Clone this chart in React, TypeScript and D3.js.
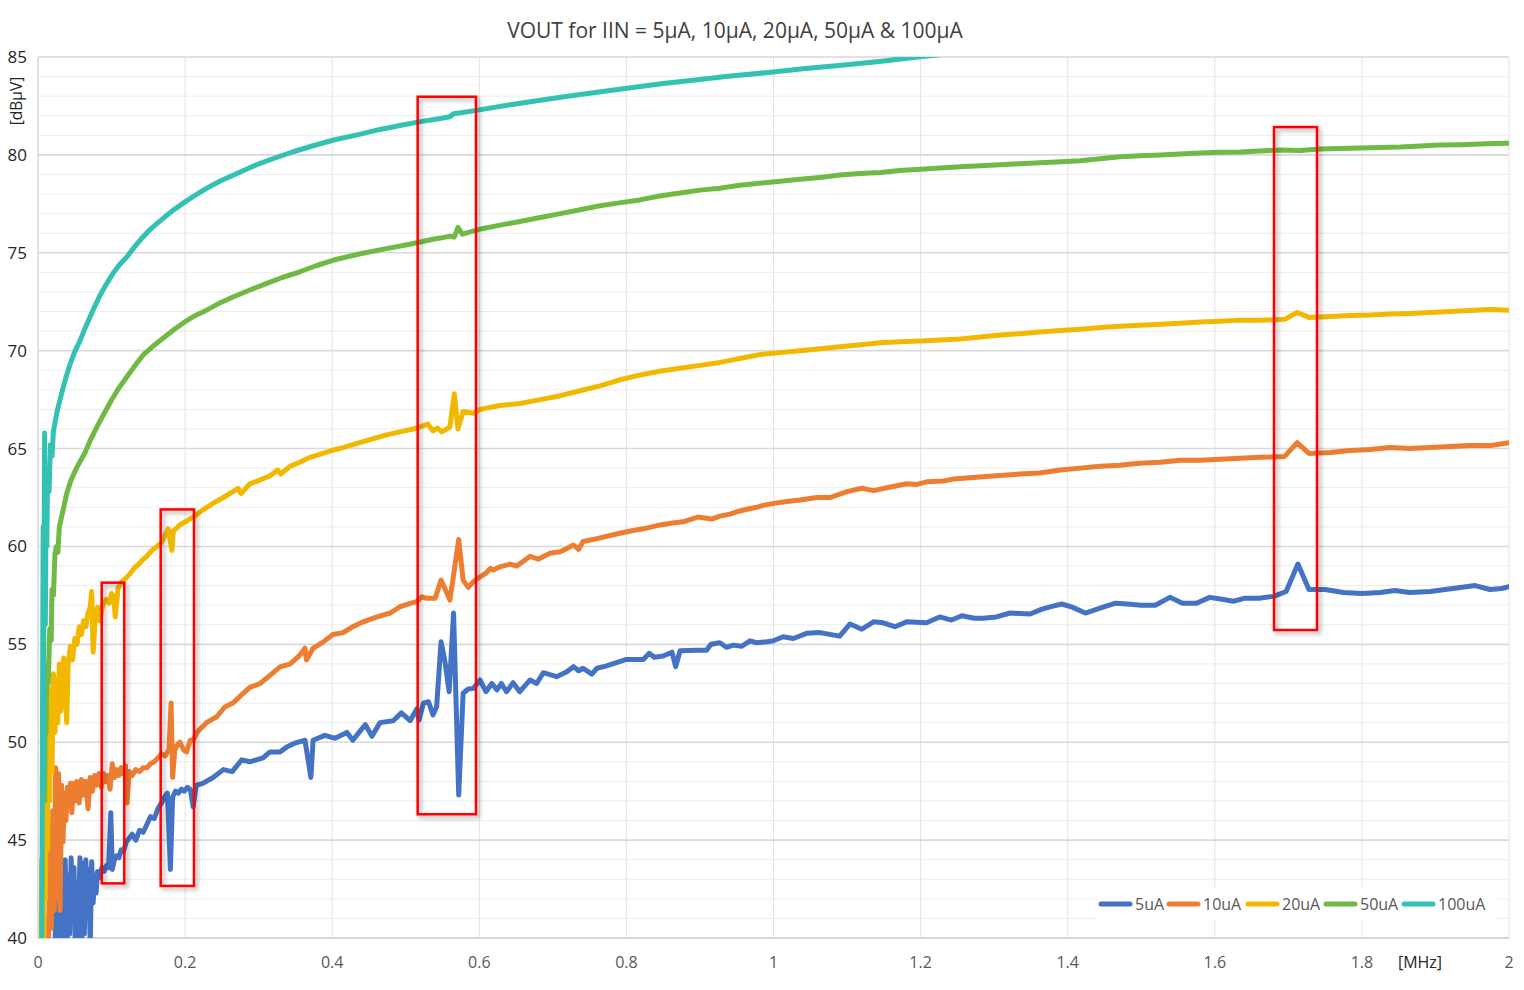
import React from 'react';
import * as d3 from 'd3';

// [MHz, dBµV] measured points per input current
const s5uA: [number, number][] = [
  [0.022, 38], [0.025, 42.3], [0.027, 38.5], [0.029, 43.0], [0.031, 39.0], [0.033, 43.3], [0.035, 40.4], [0.037, 44.0],
  [0.039, 38.5], [0.041, 43.2], [0.043, 40.2], [0.045, 44.1], [0.047, 41.0], [0.049, 43.6], [0.051, 38.5], [0.053, 42.8],
  [0.055, 40.6], [0.057, 44.1], [0.059, 39.0], [0.061, 43.8], [0.063, 40.2], [0.065, 44.0], [0.067, 41.5], [0.069, 43.5],
  [0.071, 39.5], [0.073, 43.9], [0.075, 41.8], [0.077, 43.2], [0.079, 42.3], [0.081, 43.4], [0.084, 43.1], [0.087, 43.6],
  [0.090, 43.4], [0.093, 43.7], [0.096, 43.6], [0.099, 46.4], [0.101, 43.5], [0.104, 44.0], [0.107, 44.2], [0.110, 44.1],
  [0.113, 44.5], [0.116, 44.4], [0.120, 44.9], [0.124, 45.1], [0.128, 45.3], [0.133, 45.0], [0.138, 45.5], [0.143, 45.4],
  [0.148, 45.8], [0.153, 46.2], [0.158, 46.1], [0.163, 46.6], [0.168, 46.9], [0.172, 47.2], [0.176, 47.4], [0.180, 43.5],
  [0.183, 47.2], [0.187, 47.5], [0.191, 47.4], [0.195, 47.6], [0.199, 47.5], [0.203, 47.7], [0.207, 47.6], [0.211, 46.7],
  [0.215, 47.8], [0.224, 47.9], [0.238, 48.2], [0.252, 48.6], [0.264, 48.5], [0.277, 49.1], [0.288, 49.0], [0.306, 49.2],
  [0.315, 49.5], [0.329, 49.5], [0.338, 49.75], [0.349, 49.95], [0.363, 50.1], [0.371, 48.2], [0.374, 50.1], [0.390, 50.35],
  [0.404, 50.2], [0.420, 50.5], [0.428, 50.1], [0.445, 50.9], [0.454, 50.3], [0.465, 51.0], [0.483, 51.1], [0.494, 51.5],
  [0.506, 51.1], [0.515, 51.7], [0.518, 51.13], [0.524, 51.99], [0.531, 52.07], [0.537, 51.39], [0.542, 51.81], [0.548, 55.13],
  [0.553, 54.2], [0.559, 52.58], [0.565, 56.6], [0.572, 47.3], [0.578, 52.5], [0.585, 52.72], [0.592, 52.75], [0.601, 53.18],
  [0.609, 52.58], [0.617, 53.0], [0.624, 52.67], [0.630, 53.0], [0.637, 52.58], [0.646, 53.04], [0.655, 52.58], [0.669, 53.18],
  [0.678, 53.0], [0.687, 53.55], [0.705, 53.35], [0.719, 53.6], [0.728, 53.86], [0.735, 53.65], [0.741, 53.78], [0.753, 53.48],
  [0.760, 53.78], [0.773, 53.9], [0.800, 54.23], [0.823, 54.23], [0.831, 54.54], [0.838, 54.34], [0.850, 54.4], [0.862, 54.6],
  [0.867, 53.86], [0.873, 54.67], [0.896, 54.7], [0.909, 54.7], [0.915, 55.0], [0.927, 55.08], [0.936, 54.85], [0.945, 54.96],
  [0.957, 54.9], [0.968, 55.18], [0.977, 55.08], [0.991, 55.13], [1.000, 55.18], [1.013, 55.39], [1.027, 55.3], [1.045, 55.56],
  [1.063, 55.6], [1.090, 55.42], [1.104, 56.04], [1.120, 55.77], [1.136, 56.15], [1.149, 56.1], [1.165, 55.9], [1.181, 56.15],
  [1.208, 56.1], [1.226, 56.4], [1.242, 56.24], [1.256, 56.46], [1.273, 56.33], [1.285, 56.33], [1.303, 56.4], [1.322, 56.6],
  [1.349, 56.55], [1.365, 56.8], [1.380, 56.95], [1.392, 57.06], [1.406, 56.9], [1.424, 56.6], [1.444, 56.85], [1.465, 57.1],
  [1.485, 57.05], [1.500, 57.0], [1.519, 57.0], [1.539, 57.4], [1.556, 57.1], [1.575, 57.1], [1.593, 57.4], [1.610, 57.3],
  [1.625, 57.2], [1.640, 57.35], [1.660, 57.35], [1.680, 57.45], [1.697, 57.7], [1.713, 59.1], [1.728, 57.8], [1.750, 57.8],
  [1.775, 57.65], [1.800, 57.6], [1.825, 57.65], [1.845, 57.75], [1.865, 57.65], [1.893, 57.7], [1.913, 57.8], [1.934, 57.9],
  [1.954, 58.0], [1.974, 57.8], [1.990, 57.85], [2.000, 57.95],
];

const s10uA: [number, number][] = [
  [0.010, 38], [0.012, 41.0], [0.014, 38.5], [0.016, 44.5], [0.018, 40.5], [0.020, 46.5], [0.022, 41.4], [0.024, 48.7],
  [0.026, 42.0], [0.028, 48.4], [0.030, 41.4], [0.032, 47.8], [0.034, 44.9], [0.036, 47.4], [0.038, 46.0], [0.040, 47.7],
  [0.042, 46.7], [0.044, 47.9], [0.046, 46.4], [0.048, 47.9], [0.050, 47.0], [0.053, 48.0], [0.056, 46.9], [0.059, 48.1],
  [0.062, 47.3], [0.065, 48.0], [0.068, 46.6], [0.071, 48.2], [0.074, 47.5], [0.077, 48.3], [0.080, 47.8], [0.083, 48.4],
  [0.086, 47.7], [0.089, 48.4], [0.092, 48.0], [0.095, 48.3], [0.098, 47.6], [0.101, 48.9], [0.104, 48.2], [0.107, 48.6],
  [0.110, 48.3], [0.113, 48.7], [0.116, 48.4], [0.119, 48.8], [0.121, 46.9], [0.124, 48.5], [0.128, 48.3], [0.133, 48.6],
  [0.138, 48.5], [0.143, 48.7], [0.148, 48.7], [0.153, 48.9], [0.158, 49.0], [0.163, 49.2], [0.168, 49.4], [0.173, 49.3],
  [0.178, 49.6], [0.181, 52.0], [0.183, 48.2], [0.186, 49.6], [0.190, 49.9], [0.193, 50.0], [0.198, 49.6], [0.202, 49.5],
  [0.207, 50.1], [0.211, 50.1], [0.216, 50.5], [0.229, 51.0], [0.243, 51.3], [0.254, 51.8], [0.265, 52.0], [0.279, 52.5],
  [0.288, 52.8], [0.302, 53.0], [0.315, 53.4], [0.329, 53.85], [0.343, 54.0], [0.356, 54.45], [0.363, 54.8], [0.365, 54.2],
  [0.374, 54.8], [0.387, 55.1], [0.401, 55.5], [0.415, 55.6], [0.428, 55.9], [0.442, 56.15], [0.461, 56.4], [0.479, 56.6],
  [0.492, 56.92], [0.499, 57.0], [0.506, 57.09], [0.515, 57.18], [0.522, 57.43], [0.528, 57.35], [0.540, 57.35], [0.548, 58.28],
  [0.553, 57.86], [0.560, 57.26], [0.566, 58.79], [0.572, 60.36], [0.578, 58.28], [0.585, 57.91], [0.592, 58.2], [0.601, 58.45],
  [0.609, 58.63], [0.615, 58.88], [0.619, 58.79], [0.628, 58.96], [0.642, 59.1], [0.651, 59.0], [0.669, 59.5], [0.680, 59.35],
  [0.696, 59.65], [0.710, 59.73], [0.719, 59.9], [0.728, 60.07], [0.735, 59.85], [0.741, 60.25], [0.760, 60.4], [0.782, 60.6],
  [0.807, 60.8], [0.823, 60.9], [0.846, 61.1], [0.863, 61.2], [0.877, 61.26], [0.897, 61.5], [0.916, 61.4], [0.927, 61.55],
  [0.941, 61.65], [0.950, 61.77], [0.964, 61.9], [0.977, 62.0], [0.986, 62.1], [1.000, 62.2], [1.018, 62.3], [1.036, 62.37],
  [1.059, 62.5], [1.077, 62.5], [1.100, 62.8], [1.120, 62.97], [1.136, 62.85], [1.154, 63.0], [1.181, 63.2], [1.195, 63.17],
  [1.208, 63.3], [1.231, 63.34], [1.244, 63.44], [1.276, 63.53], [1.298, 63.6], [1.335, 63.7], [1.362, 63.75], [1.390, 63.9],
  [1.417, 64.0], [1.444, 64.1], [1.471, 64.15], [1.498, 64.25], [1.526, 64.3], [1.553, 64.4], [1.580, 64.4], [1.607, 64.45],
  [1.634, 64.5], [1.661, 64.55], [1.695, 64.6], [1.712, 65.3], [1.728, 64.75], [1.757, 64.8], [1.784, 64.9], [1.811, 64.95],
  [1.838, 65.05], [1.865, 65.0], [1.893, 65.05], [1.920, 65.1], [1.947, 65.15], [1.974, 65.15], [2.000, 65.3],
];

const s20uA: [number, number][] = [
  [0.004, 38], [0.005, 44.0], [0.006, 38.5], [0.007, 47.0], [0.008, 40.0], [0.009, 50.8], [0.010, 42.0], [0.012, 49.5],
  [0.013, 44.5], [0.014, 52.8], [0.016, 47.0], [0.017, 52.3], [0.019, 48.5], [0.021, 53.5], [0.023, 50.5], [0.025, 53.2],
  [0.027, 51.0], [0.029, 54.0], [0.031, 51.6], [0.033, 53.6], [0.035, 54.3], [0.037, 52.5], [0.039, 51.0], [0.041, 54.0],
  [0.044, 54.9], [0.047, 54.2], [0.050, 55.3], [0.053, 55.0], [0.056, 55.9], [0.059, 55.5], [0.062, 56.2], [0.065, 55.9],
  [0.068, 56.6], [0.071, 56.9], [0.073, 57.7], [0.075, 54.6], [0.078, 56.4], [0.081, 56.9], [0.084, 56.2], [0.088, 57.0],
  [0.093, 57.3], [0.097, 57.1], [0.100, 57.6], [0.103, 57.4], [0.105, 56.4], [0.109, 57.9], [0.114, 58.2], [0.120, 58.4],
  [0.125, 58.6], [0.131, 58.9], [0.137, 59.1], [0.142, 59.3], [0.148, 59.5], [0.155, 59.8], [0.162, 60.0], [0.168, 60.2],
  [0.173, 60.6], [0.177, 60.9], [0.182, 59.8], [0.184, 60.8], [0.193, 61.1], [0.202, 61.3], [0.211, 61.5], [0.224, 61.86],
  [0.238, 62.2], [0.252, 62.5], [0.265, 62.8], [0.272, 62.97], [0.276, 62.7], [0.288, 63.2], [0.302, 63.4], [0.315, 63.6],
  [0.326, 63.9], [0.330, 63.7], [0.343, 64.1], [0.356, 64.3], [0.370, 64.55], [0.383, 64.7], [0.399, 64.9], [0.415, 65.05],
  [0.428, 65.2], [0.442, 65.35], [0.455, 65.5], [0.474, 65.7], [0.492, 65.85], [0.510, 66.0], [0.519, 66.1], [0.530, 66.25],
  [0.537, 65.9], [0.543, 66.05], [0.549, 65.85], [0.560, 66.1], [0.566, 67.8], [0.571, 66.0], [0.578, 66.9], [0.592, 66.8],
  [0.601, 67.0], [0.628, 67.2], [0.655, 67.3], [0.683, 67.5], [0.710, 67.7], [0.737, 67.95], [0.764, 68.2], [0.790, 68.5],
  [0.818, 68.75], [0.845, 68.95], [0.873, 69.1], [0.900, 69.25], [0.927, 69.4], [0.954, 69.6], [0.981, 69.8], [1.009, 69.9],
  [1.036, 70.0], [1.063, 70.1], [1.090, 70.2], [1.118, 70.3], [1.145, 70.4], [1.172, 70.45], [1.200, 70.5], [1.227, 70.55],
  [1.254, 70.6], [1.281, 70.7], [1.308, 70.8], [1.335, 70.87], [1.362, 70.95], [1.390, 71.03], [1.417, 71.1], [1.444, 71.18],
  [1.471, 71.25], [1.498, 71.3], [1.526, 71.35], [1.553, 71.4], [1.580, 71.46], [1.607, 71.5], [1.634, 71.56], [1.661, 71.55],
  [1.695, 71.6], [1.712, 71.95], [1.728, 71.7], [1.757, 71.75], [1.784, 71.8], [1.811, 71.82], [1.838, 71.87], [1.865, 71.9],
  [1.893, 71.95], [1.920, 72.0], [1.947, 72.05], [1.974, 72.1], [2.000, 72.07],
];

const s50uA: [number, number][] = [
  [0.008, 48.5], [0.009, 47.0], [0.010, 52.0], [0.011, 50.5], [0.012, 54.0], [0.014, 53.0], [0.016, 55.8], [0.018, 55.2],
  [0.019, 57.8], [0.021, 57.5], [0.023, 59.6], [0.025, 60.0], [0.027, 59.7], [0.029, 61.0], [0.032, 61.5], [0.035, 62.0],
  [0.039, 62.7], [0.045, 63.4], [0.053, 64.05], [0.064, 64.8], [0.072, 65.5], [0.080, 66.1], [0.090, 66.8], [0.100, 67.48],
  [0.110, 68.1], [0.121, 68.67], [0.132, 69.25], [0.143, 69.78], [0.157, 70.25], [0.170, 70.63], [0.185, 71.08], [0.200, 71.48],
  [0.214, 71.8], [0.229, 72.07], [0.247, 72.43], [0.266, 72.75], [0.288, 73.1], [0.311, 73.44], [0.333, 73.75], [0.356, 74.03],
  [0.379, 74.35], [0.402, 74.63], [0.438, 74.95], [0.479, 75.25], [0.500, 75.4], [0.520, 75.55], [0.535, 75.68], [0.547, 75.75],
  [0.560, 75.85], [0.566, 75.8], [0.571, 76.3], [0.577, 75.95], [0.600, 76.2], [0.627, 76.4], [0.655, 76.6], [0.683, 76.8],
  [0.710, 77.0], [0.737, 77.2], [0.764, 77.4], [0.790, 77.55], [0.818, 77.7], [0.845, 77.9], [0.873, 78.05], [0.900, 78.2],
  [0.927, 78.3], [0.954, 78.45], [0.981, 78.55], [1.009, 78.65], [1.036, 78.75], [1.063, 78.85], [1.090, 78.97], [1.118, 79.05],
  [1.145, 79.1], [1.172, 79.2], [1.200, 79.27], [1.227, 79.33], [1.254, 79.4], [1.281, 79.45], [1.308, 79.5], [1.335, 79.55],
  [1.362, 79.6], [1.390, 79.65], [1.417, 79.7], [1.444, 79.8], [1.471, 79.9], [1.498, 79.95], [1.526, 80.0], [1.553, 80.05],
  [1.580, 80.1], [1.607, 80.13], [1.634, 80.15], [1.660, 80.2], [1.689, 80.25], [1.716, 80.22], [1.743, 80.3], [1.770, 80.33],
  [1.797, 80.35], [1.825, 80.38], [1.852, 80.4], [1.880, 80.45], [1.906, 80.5], [1.934, 80.52], [1.961, 80.55], [1.980, 80.58],
  [2.000, 80.6],
];

const s100uA: [number, number][] = [
  [0.005, 38], [0.006, 50.0], [0.007, 61.0], [0.0075, 47.6], [0.008, 58.0], [0.009, 65.8], [0.010, 56.0], [0.011, 62.5],
  [0.012, 60.0], [0.013, 63.7], [0.015, 62.8], [0.017, 65.2], [0.019, 64.6], [0.021, 65.9], [0.023, 66.3], [0.026, 66.9],
  [0.030, 67.5], [0.034, 68.1], [0.039, 68.75], [0.044, 69.35], [0.050, 69.95], [0.057, 70.5], [0.064, 71.15], [0.071, 71.75],
  [0.077, 72.25], [0.084, 72.8], [0.093, 73.4], [0.102, 73.95], [0.111, 74.4], [0.121, 74.8], [0.130, 75.25], [0.139, 75.65],
  [0.150, 76.1], [0.162, 76.5], [0.173, 76.85], [0.184, 77.18], [0.200, 77.6], [0.214, 77.95], [0.229, 78.29], [0.247, 78.65],
  [0.266, 78.97], [0.284, 79.28], [0.302, 79.57], [0.325, 79.88], [0.347, 80.16], [0.375, 80.48], [0.402, 80.76], [0.437, 81.05],
  [0.465, 81.3], [0.492, 81.5], [0.520, 81.7], [0.545, 81.85], [0.560, 81.95], [0.565, 82.1], [0.575, 82.15], [0.600, 82.3],
  [0.640, 82.55], [0.676, 82.75], [0.720, 83.0], [0.760, 83.2], [0.801, 83.4], [0.850, 83.65], [0.900, 83.85], [0.935, 84.0],
  [0.990, 84.2], [1.040, 84.4], [1.100, 84.6], [1.150, 84.8], [1.196, 85.0], [1.250, 85.2], [1.300, 85.4],
];

const seriesNames = ['5uA', '10uA', '20uA', '50uA', '100uA'];
const seriesColors = ['#4472C4', '#ED7D31', '#F2B800', '#70B944', '#33C1B3'];
const seriesData = [s5uA, s10uA, s20uA, s50uA, s100uA];

const xTicks = [0, 0.2, 0.4, 0.6, 0.8, 1.0, 1.2, 1.4, 1.6, 1.8, 2.0];
const yTicks = [40, 45, 50, 55, 60, 65, 70, 75, 80, 85];

// highlighted regions: [MHz from, MHz to, dB low, dB high]
const highlights: [number, number, number, number][] = [
  [0.0866, 0.1173, 42.79, 58.15],
  [0.1668, 0.2121, 42.66, 61.89],
  [0.5162, 0.5955, 46.32, 82.97],
  [1.6805, 1.7390, 55.73, 81.42],
];

const W = 1524;
const H = 990;
const plot = {left: 38, right: 1509, top: 57, bottom: 938};
const FONT = '"Open Sans", "Noto Sans", sans-serif';

export default function App() {
  const x = d3.scaleLinear().domain([0, 2]).range([plot.left, plot.right]);
  const y = d3.scaleLinear().domain([40, 85]).range([plot.bottom, plot.top]);

  const line = d3.line<[number, number]>()
    .x(d => x(d[0]))
    .y(d => y(d[1]));

  const minorY = d3.range(41, 85, 1).filter(v => v % 5 !== 0);

  // legend layout
  const legendX = [1101, 1169, 1248, 1326, 1404];
  const legendY = 904;

  return (
    <div style={{position: 'absolute', left: 0, top: 0}}>
      <svg width={W} height={H} style={{display: 'block', background: '#fff', fontFamily: FONT}}>
        <defs>
          <clipPath id="plot-clip">
            <rect x={plot.left} y={plot.top} width={plot.right - plot.left} height={plot.bottom - plot.top}/>
          </clipPath>
          <filter id="box-shadow" x="-50%" y="-10%" width="200%" height="120%">
            <feDropShadow dx="2.5" dy="2.5" stdDeviation="2" floodColor="#000" floodOpacity="0.35"/>
          </filter>
        </defs>

        <text x={735} y={38} textAnchor="middle" fontSize={21} fill="#404040">
          VOUT for IIN = 5µA, 10µA, 20µA, 50µA &amp; 100µA
        </text>

        {/* minor horizontal grid */}
        {minorY.map(v => (
          <line key={'mn' + v} x1={plot.left} x2={plot.right} y1={y(v)} y2={y(v)} stroke="#ededed" strokeWidth={1}/>
        ))}
        {/* vertical grid */}
        {xTicks.map(t => (
          <line key={'vx' + t} x1={x(t)} x2={x(t)} y1={plot.top} y2={plot.bottom} stroke="#e3e3e3" strokeWidth={1}/>
        ))}
        {/* major horizontal grid */}
        {yTicks.map(v => (
          <line key={'mj' + v} x1={plot.left} x2={plot.right} y1={y(v)} y2={y(v)} stroke="#d9d9d9" strokeWidth={1.6}/>
        ))}
        <line x1={plot.left} x2={plot.left} y1={plot.top} y2={plot.bottom} stroke="#d9d9d9" strokeWidth={1.3}/>
        <line x1={plot.left} x2={plot.right} y1={plot.bottom} y2={plot.bottom} stroke="#d0d0d0" strokeWidth={1.6}/>

        {/* y tick labels */}
        {yTicks.map(v => (
          <text key={'yl' + v} x={27} y={y(v) + 6} textAnchor="end" fontSize={17} fill="#262626">{v}</text>
        ))}
        {/* x tick labels */}
        {xTicks.map(t => (
          <text key={'xl' + t} x={x(t)} y={968} textAnchor="middle" fontSize={16} fill="#595959">
            {d3.format('~g')(t)}
          </text>
        ))}
        <text x={1420} y={968} textAnchor="middle" fontSize={16} fill="#262626">[MHz]</text>
        <text transform={`translate(22,101) rotate(-90)`} textAnchor="middle" fontSize={15.5} fill="#262626">[dBµV]</text>

        {/* series */}
        <g clipPath="url(#plot-clip)">
          {seriesData.map((d, i) => (
            <path key={seriesNames[i]} d={line(d) ?? ''} fill="none" stroke={seriesColors[i]}
                  strokeWidth={5} strokeLinejoin="round" strokeLinecap="round"/>
          ))}
        </g>

        {/* legend */}
        <rect x={1097} y={889} width={398} height={30} fill="#fff"/>
        {seriesNames.map((n, i) => (
          <g key={'lg' + n}>
            <line x1={legendX[i]} x2={legendX[i] + 29} y1={legendY} y2={legendY} stroke={seriesColors[i]}
                  strokeWidth={5} strokeLinecap="round"/>
            <text x={legendX[i] + 34} y={legendY + 6} fontSize={16} fill="#595959">{n}</text>
          </g>
        ))}

        {/* highlight boxes */}
        {highlights.map((h, i) => (
          <rect key={'hb' + i} x={x(h[0])} y={y(h[3])} width={x(h[1]) - x(h[0])} height={y(h[2]) - y(h[3])}
                fill="none" stroke="#ff0000" strokeWidth={2.5} filter="url(#box-shadow)"/>
        ))}
      </svg>
    </div>
  );
}
